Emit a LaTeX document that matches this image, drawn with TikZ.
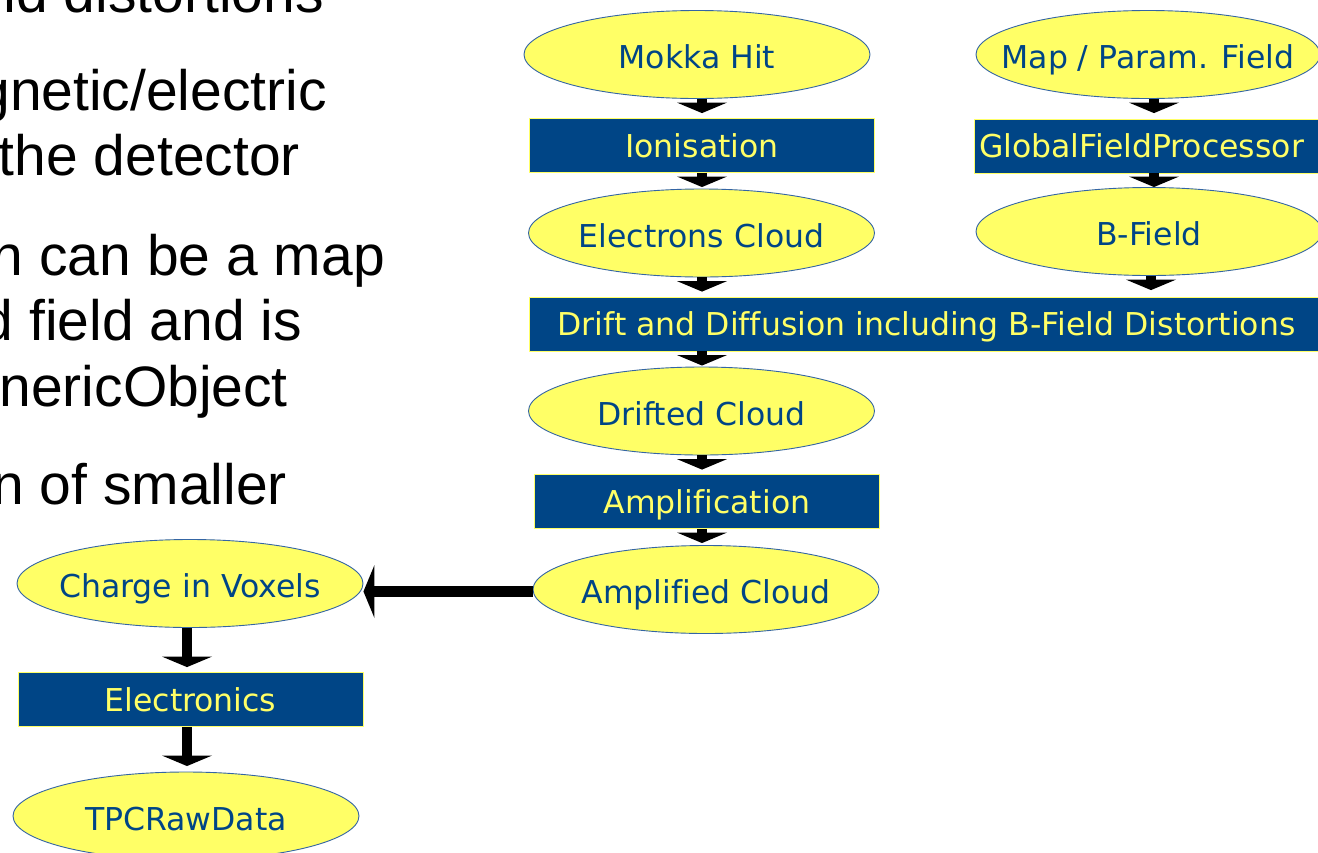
\documentclass[tikz,border=0pt]{standalone}
\usepackage{fontspec}
\setmainfont[Ligatures=NoCommon]{Liberation Sans}
\newfontfamily\flowfont[Ligatures=NoCommon]{DejaVu Sans}
\usetikzlibrary{arrows.meta,shapes.geometric}

\definecolor{cloudfill}{RGB}{255,255,102}
\definecolor{cloudline}{RGB}{52,101,164}
\definecolor{procblue}{RGB}{0,69,134}

% zero-width label, so the shape size comes from the minimum sizes only
\newcommand{\ctrtext}[1]{\makebox[0pt]{#1}}

\begin{document}
\begin{tikzpicture}[x=1pt,y=-1pt,
  data/.style={ellipse, draw=cloudline, line width=0.9pt, fill=cloudfill,
    text=procblue, inner sep=0pt, minimum width=346pt, minimum height=88pt,
    font=\flowfont\fontsize{31.5}{37}\selectfont, text height=28.4pt, text depth=0pt},
  process/.style={rectangle, draw=cloudfill, line width=0.8pt, fill=procblue,
    text=cloudfill, inner sep=0pt, minimum width=345pt, minimum height=54pt,
    font=\flowfont\fontsize{31.5}{37}\selectfont, text height=25.8pt, text depth=2.2pt},
  flow/.style={line width=10pt, draw=black,
    -{Triangle[width=50pt,length=10.5pt,line width=0pt]}, shorten >=#1},
  flow/.default=0pt,
  prose/.style={inner sep=0pt, anchor=base east, text=black,
    font=\fontsize{57}{68}\selectfont}]

\useasboundingbox (0,0) rectangle (1318,852);
\fill[white] (0,0) rectangle (1318,852);
\begin{scope}
\clip (0,0) rectangle (1318,852);

% bullet text running in from the left
\node[prose] (t1) at (324,12.7) {nd distortions};
\node[prose] (t2) at (327,110) {gnetic/electric};
\node[prose] (t3) at (300,175.7) {the detector};
\node[prose] (t4) at (385,275) {n can be a map};
\node[prose] (t5) at (302,340) {d field and is};
\node[prose] (t6) at (288,406) {nericObject};
\node[prose] (t7) at (287,504) {n of smaller};

% main chain
\node[data] (mokka) at (697,54.5) {\ctrtext{Mokka Hit}};
\node[process] (ion) at (702,145.5) {Ionisation};
\node[data] (elec) at (701.5,233) {\ctrtext{Electrons Cloud}};
\node[process, minimum width=795pt] (drift) at (926.5,324)
  {Drift and Diffusion including B-Field Distortions};
\node[data] (drifted) at (701.5,411) {\ctrtext{Drifted Cloud}};
\node[process] (ampl) at (707,501.5) {Amplification};
\node[data] (amplc) at (706,589.5) {\ctrtext{Amplified Cloud}};

% field chain
\node[data, minimum width=344pt] (mapf) at (1148,54.5) {\ctrtext{Map / Param. Field}};
\node[process] (gfp) at (1146.5,146) {\ctrtext{GlobalFieldProcessor\kern10pt}};
\node[data] (bfield) at (1149,231.5) {\ctrtext{B-Field}};

% readout chain
\node[data] (charge) at (190,583.5) {\ctrtext{Charge in Voxels}};
\node[process] (elecs) at (190.5,699.5) {Electronics};
\node[data] (tpc) at (186,816) {\ctrtext{TPCRawData}};

% connectors
\draw[flow=5pt]   (mokka.south -| ion.north) -- (ion.north);
\draw[flow=1.5pt] (ion.south) -- (ion.south |- elec.north);
\draw[flow=5pt]   (ion.south |- elec.south) -- (ion.south |- drift.north);
\draw[flow=1pt]   (ion.south |- drift.south) -- (ion.south |- drifted.north);
\draw[flow=4.5pt] (ion.south |- drifted.south) -- (ion.south |- ampl.north);
\draw[flow=2pt]   (ion.south |- ampl.south) -- (ion.south |- amplc.north);

\coordinate (fcol) at (1154,0);
\draw[flow=5.5pt] (fcol |- mapf.south) -- (fcol |- gfp.north);
\draw[flow]       (fcol |- gfp.south) -- (fcol |- bfield.north);
\draw[flow=6.5pt] ([xshift=-3pt]fcol |- bfield.south) -- ([xshift=-3pt]fcol |- drift.north);

\draw[line width=11pt, -{Triangle[width=53pt,length=11pt,line width=0pt]}]
  ([yshift=-2pt]amplc.west) -- ([yshift=-2pt]amplc.west -| charge.east);

\coordinate (lcol) at (187,0);
\draw[flow=5pt]   (lcol |- charge.south) -- (lcol |- elecs.north);
\draw[flow=5.5pt] (lcol |- elecs.south) -- (lcol |- tpc.north);
\end{scope}
\end{tikzpicture}
\end{document}
